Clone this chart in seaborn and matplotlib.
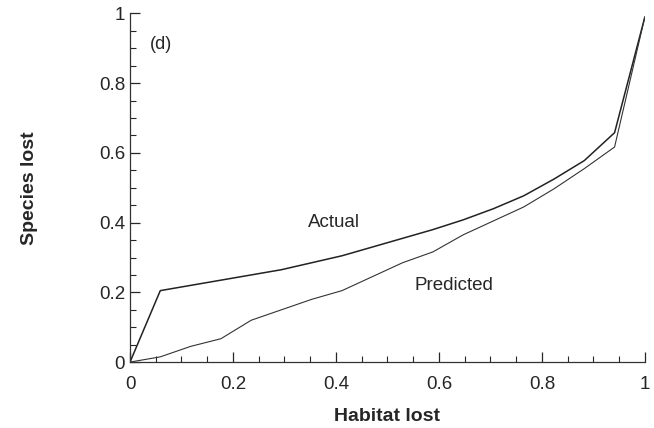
import numpy as np
import pandas as pd
import matplotlib
matplotlib.use("Agg")
import matplotlib.pyplot as plt
import seaborn as sns

# Datos
habitat_lost = [0, 0.0588, 0.1176, 0.1765, 0.2353, 0.2941, 0.3529, 0.4118, 0.4706,
                0.5294, 0.5882, 0.6471, 0.7059, 0.7647, 0.8235, 0.8824, 0.9412, 1.0]
actual = [0, 0.205, 0.22, 0.235, 0.25, 0.265, 0.285, 0.305, 0.33,
          0.355, 0.38, 0.408, 0.44, 0.477, 0.525, 0.578, 0.658, 0.99]
predicted = [0, 0.015, 0.045, 0.067, 0.12, 0.15, 0.18, 0.205, 0.245,
             0.285, 0.316, 0.365, 0.405, 0.445, 0.497, 0.555, 0.617, 0.99]
tick_vals = [0, 0.2, 0.4, 0.6, 0.8, 1]
tick_labels = ["0", "0.2", "0.4", "0.6", "0.8", "1"]

sns.set_style("ticks")
plt.rcParams["font.family"] = ["Liberation Sans", "DejaVu Sans"]

df = pd.DataFrame({"Habitat lost": habitat_lost * 2,
                   "Species lost": actual + predicted,
                   "serie": ["Actual"] * len(actual) + ["Predicted"] * len(predicted)})

fig = plt.figure(figsize=(6.54, 4.28), dpi=100)
ax = fig.add_axes([0.1988, 0.154, 0.7872, 0.8145])
sns.lineplot(data=df, x="Habitat lost", y="Species lost", hue="serie", size="serie",
             sizes={"Actual": 1.1, "Predicted": 0.8},
             palette={"Actual": "#222222", "Predicted": "#333333"}, legend=False, ax=ax)

ax.set_xlim(0, 1)
ax.set_ylim(0, 1)
ax.set_xticks(tick_vals)
ax.set_xticklabels(tick_labels)
ax.set_yticks(tick_vals)
ax.set_yticklabels(tick_labels)
ax.set_xticks(np.arange(0, 1.0001, 0.05), minor=True)
ax.set_yticks(np.arange(0, 1.0001, 0.05), minor=True)
ax.tick_params(which="major", direction="in", length=7, width=0.9, labelsize=13.5)
ax.tick_params(axis="x", which="major", pad=10)
ax.tick_params(axis="y", which="major", pad=3.5)
ax.tick_params(which="minor", direction="in", length=4, width=0.8)
sns.despine(ax=ax)
for s in ["left", "bottom"]:
    ax.spines[s].set_linewidth(0.9)
    ax.spines[s].set_color("#333333")

ax.set_xlabel("Habitat lost", fontsize=14, fontweight="bold", labelpad=11)
ax.set_ylabel("Species lost", fontsize=14, fontweight="bold", labelpad=44)

ax.text(0.038, 0.91, "(d)", fontsize=13, va="center", ha="left")
ax.text(0.397, 0.40, "Actual", fontsize=13.5, va="center", ha="center")
ax.text(0.63, 0.22, "Predicted", fontsize=13.5, va="center", ha="center")

fig.savefig("out.png", dpi=100)
